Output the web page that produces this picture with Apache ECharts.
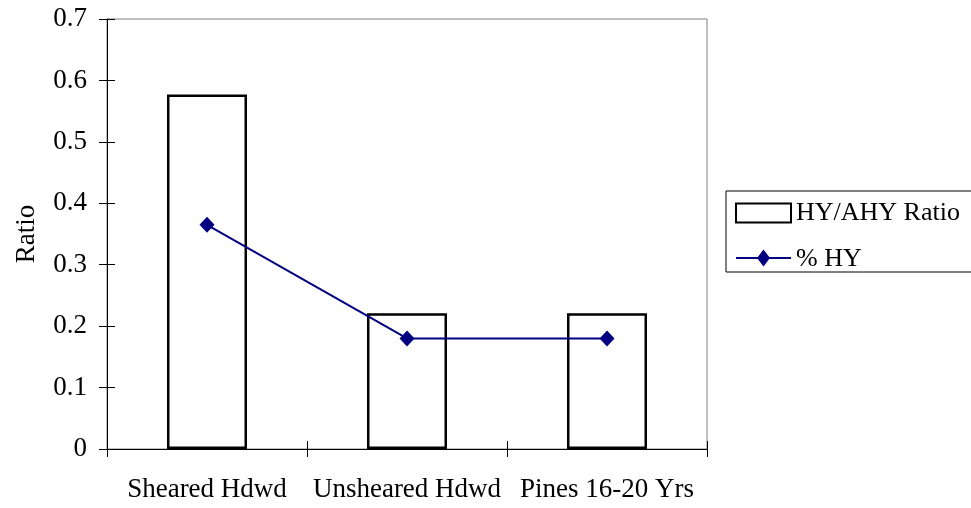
<!DOCTYPE html>
<html>
<head>
<meta charset="utf-8">
<script src="https://cdn.jsdelivr.net/npm/echarts@6/dist/echarts.min.js"></script>
<style>html,body{margin:0;padding:0;background:#fff}#c{width:971px;height:508px}</style>
</head>
<body>
<div id="c"></div>
<script>
var categories = ['Sheared Hdwd', 'Unsheared Hdwd', 'Pines 16-20 Yrs'];
var ratioValues = [0.577, 0.221, 0.221];
var pctHYValues = [0.365, 0.180, 0.180];
var yTicks = [0, 0.1, 0.2, 0.3, 0.4, 0.5, 0.6, 0.7];

var FONT = '"Liberation Serif", "Times New Roman", serif';
var FS = 27;
var chart = echarts.init(document.getElementById('c'), null, {renderer: 'canvas'});
var yBase = {
  type: 'value', min: yTicks[0], max: yTicks[yTicks.length - 1], interval: 0.1,
  splitLine: {show: false}
};
chart.setOption({
  animation: false,
  backgroundColor: '#fff',
  textStyle: {fontFamily: FONT, color: '#000'},
  grid: {left: 107, right: 264, top: 19, bottom: 59, show: true, borderColor: '#808080', borderWidth: 1, backgroundColor: 'transparent'},
  legend: {
    orient: 'vertical', left: 726, top: 191,
    padding: [9, 20, 0, 9], itemGap: 20,
    itemWidth: 55, itemHeight: 19,
    borderColor: '#000', borderWidth: 1,
    textStyle: {fontFamily: FONT, fontSize: 26, color: '#000'},
    data: [
      {name: 'HY/AHY Ratio', icon: 'rect'},
      {name: '% HY', icon: 'path://M0,7.6 L55,7.6 L55,9.4 L0,9.4 Z M27.5,0 L34,8.5 L27.5,17 L21,8.5 Z M0,19 L0.01,19 Z'}
    ]
  },
  xAxis: [{
    type: 'category', data: categories,
    axisLine: {lineStyle: {color: '#000', width: 1}},
    axisTick: {show: true, inside: false, length: 8, lineStyle: {color: '#000'}},
    axisLabel: {fontFamily: FONT, fontSize: FS, color: '#000', margin: 27, interval: 0}
  }, {
    type: 'category', data: categories, position: 'bottom',
    axisLine: {show: false},
    axisTick: {show: true, inside: true, length: 8, lineStyle: {color: '#000'}},
    axisLabel: {show: false}
  }],
  yAxis: [Object.assign({}, yBase, {
    name: 'Ratio', nameLocation: 'middle', nameGap: 67, nameRotate: 90,
    nameTextStyle: {fontFamily: FONT, fontSize: FS, color: '#000'},
    axisLine: {show: true, lineStyle: {color: '#000', width: 1}},
    axisTick: {show: true, inside: false, length: 8, lineStyle: {color: '#000'}},
    axisLabel: {fontFamily: FONT, fontSize: FS, color: '#000', margin: 20, formatter: function(v){return String(+v.toFixed(1));}}
  }), Object.assign({}, yBase, {
    position: 'left',
    axisLine: {show: false},
    axisTick: {show: true, inside: true, length: 8, lineStyle: {color: '#000'}},
    axisLabel: {show: false}
  })],
  series: [{
    name: 'HY/AHY Ratio', type: 'bar', data: ratioValues, barWidth: 80,
    itemStyle: {color: '#fff', borderColor: '#000', borderWidth: 2.5}
  }, {
    name: '% HY', type: 'line', data: pctHYValues,
    lineStyle: {color: '#000080', width: 2},
    itemStyle: {color: '#000080'},
    symbol: 'diamond', symbolSize: [15, 16], showSymbol: true
  }]
});
</script>
</body>
</html>
